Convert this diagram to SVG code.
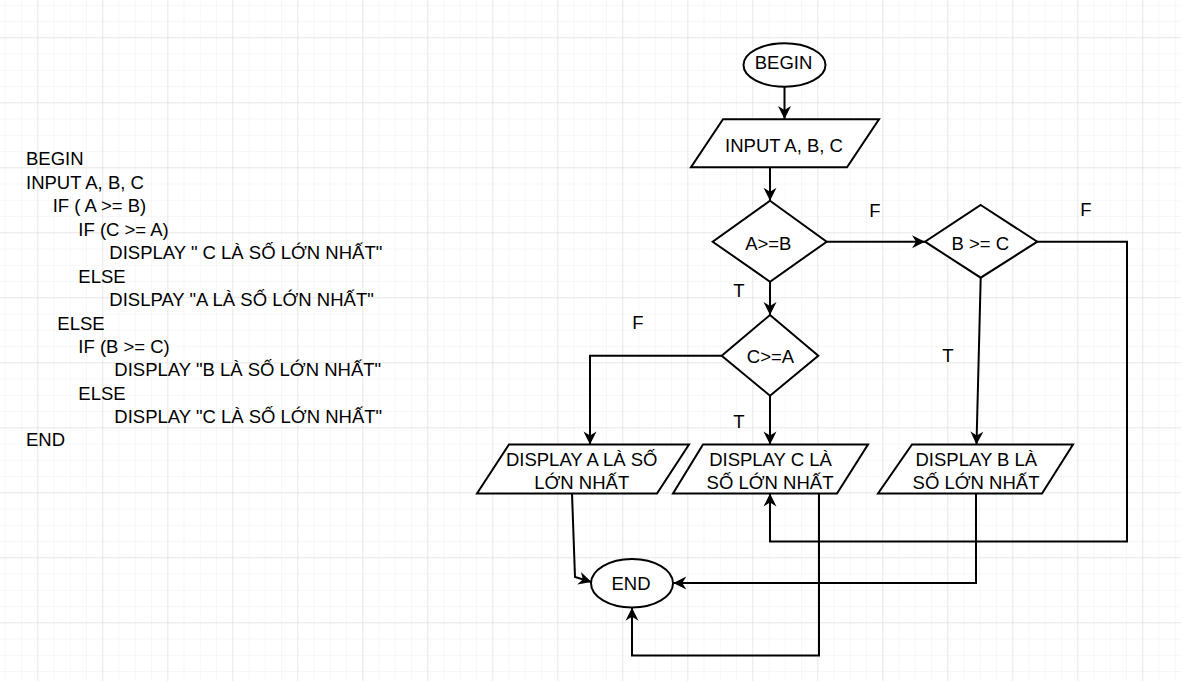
<svg xmlns="http://www.w3.org/2000/svg" width="1181" height="681" viewBox="0 0 1181 681">
  <style>
    .txt { font-family: "Liberation Sans", Arial, sans-serif; font-size: 18.5px; fill: #000; }
    .mid { text-anchor: middle; }
    .shape { fill: #fff; stroke: #000; stroke-width: 2; }
    .edge { fill: none; stroke: #000; stroke-width: 2; }
  </style>
  <defs>
    <!-- minor grid cell -->
    <pattern id="gridMinor" x="4.8" y="4.8" width="16.25" height="16.25" patternUnits="userSpaceOnUse">
      <path d="M0,0 H16.25 M0,0 V16.25" fill="none" stroke="#f0f0f0" stroke-width="1"/>
    </pattern>
    <!-- major grid cell -->
    <pattern id="gridMajor" x="37.3" y="37.3" width="65" height="65" patternUnits="userSpaceOnUse">
      <path d="M0,0 H65 M0,0 V65" fill="none" stroke="#d9d9d9" stroke-width="1"/>
    </pattern>
    <marker id="arrow" markerUnits="userSpaceOnUse" markerWidth="16" markerHeight="16" viewBox="-14 -8 16 16" refX="0" refY="0" orient="auto">
      <path d="M0,0 L-13,-6.5 L-9,0 L-13,6.5 Z" fill="#000"/>
    </marker>
  </defs>

  <!-- background grid -->
  <rect width="1181" height="681" fill="#fff"/>
  <rect width="1181" height="681" fill="url(#gridMinor)"/>
  <rect width="1181" height="681" fill="url(#gridMajor)"/>

  <!-- pseudocode listing -->
  <g id="pseudocode" class="txt">
    <text x="26" y="165">BEGIN</text>
    <text x="26" y="188.5">INPUT A, B, C</text>
    <text x="52.7" y="212">IF ( A &gt;= B)</text>
    <text x="78.3" y="235.5">IF (C &gt;= A)</text>
    <text x="109.3" y="259">DISPLAY " C LÀ SỐ LỚN NHẤT"</text>
    <text x="78.3" y="282.5">ELSE</text>
    <text x="109.3" y="306">DISLPAY "A LÀ SỐ LỚN NHẤT"</text>
    <text x="57.3" y="329.5">ELSE</text>
    <text x="78.3" y="353">IF (B &gt;= C)</text>
    <text x="114.3" y="376">DISPLAY "B LÀ SỐ LỚN NHẤT"</text>
    <text x="78.3" y="399.5">ELSE</text>
    <text x="114.3" y="423">DISPLAY "C LÀ SỐ LỚN NHẤT"</text>
    <text x="26" y="446">END</text>
  </g>

  <!-- connectors -->
  <g id="connectors" class="edge">
    <path d="M784.5,86.7 V119" marker-end="url(#arrow)"/>
    <path d="M770,167.5 V200.7" marker-end="url(#arrow)"/>
    <path d="M826.7,241.7 H925" marker-end="url(#arrow)"/>
    <path d="M770,281.7 V315" marker-end="url(#arrow)"/>
    <path d="M721.7,355.7 H590 V444.5" marker-end="url(#arrow)"/>
    <path d="M770,395.7 V444.5" marker-end="url(#arrow)"/>
    <path d="M980.7,277.7 L976.5,444.5" marker-end="url(#arrow)"/>
    <path d="M1037.3,241.7 H1127 V541.5 H770 V493.5" marker-end="url(#arrow)"/>
    <path d="M572,493.5 L575,577 L591.5,582" marker-end="url(#arrow)"/>
    <path d="M819,493.5 V655.5 H632 V607.7" marker-end="url(#arrow)"/>
    <path d="M976,493.5 V583 H673.3" marker-end="url(#arrow)"/>
  </g>

  <!-- connector labels -->
  <g id="edge-labels" class="txt mid">
    <text x="875" y="216.7">F</text>
    <text x="1086" y="216">F</text>
    <text x="739" y="297.3">T</text>
    <text x="638" y="329.3">F</text>
    <text x="739" y="427.7">T</text>
    <text x="948" y="362">T</text>
  </g>

  <g id="begin">
    <ellipse class="shape" cx="784.5" cy="65" rx="41" ry="21.7"/>
    <text class="txt mid" x="783.5" y="69.3">BEGIN</text>
  </g>

  <g id="input">
    <polygon class="shape" points="723,119.3 879,119.3 847,167.3 691,167.3"/>
    <text class="txt mid" x="784" y="151.7">INPUT A, B, C</text>
  </g>

  <g id="cond-a-ge-b">
    <polygon class="shape" points="770,200.7 826.7,241.7 770,281.7 712.7,241.7"/>
    <text class="txt mid" x="768.3" y="250">A&gt;=B</text>
  </g>

  <g id="cond-b-ge-c">
    <polygon class="shape" points="980.7,205 1037.3,241.7 980.7,277.7 925,241.7"/>
    <text class="txt mid" x="980.3" y="249.5">B &gt;= C</text>
  </g>

  <g id="cond-c-ge-a">
    <polygon class="shape" points="770,315 818.3,355.7 770,395.7 721.7,355.7"/>
    <text class="txt mid" x="770.5" y="363.3">C&gt;=A</text>
  </g>

  <g id="display-a">
    <polygon class="shape" points="509,444.5 689,444.5 657,493.5 477,493.5"/>
    <text class="txt mid" x="581.7" y="466">DISPLAY A LÀ SỐ</text>
    <text class="txt mid" x="581.7" y="489.3">LỚN NHẤT</text>
  </g>

  <g id="display-c">
    <polygon class="shape" points="703,444.5 868,444.5 837,493.5 673,493.5"/>
    <text class="txt mid" x="770.5" y="466">DISPLAY C LÀ</text>
    <text class="txt mid" x="770" y="489.3">SỐ LỚN NHẤT</text>
  </g>

  <g id="display-b">
    <polygon class="shape" points="912,444.5 1073,444.5 1042,493.5 878,493.5"/>
    <text class="txt mid" x="976.3" y="466">DISPLAY B LÀ</text>
    <text class="txt mid" x="976" y="489.3">SỐ LỚN NHẤT</text>
  </g>

  <g id="end">
    <ellipse class="shape" cx="632" cy="583.3" rx="41" ry="24.3"/>
    <text class="txt mid" x="631" y="590">END</text>
  </g>
</svg>
